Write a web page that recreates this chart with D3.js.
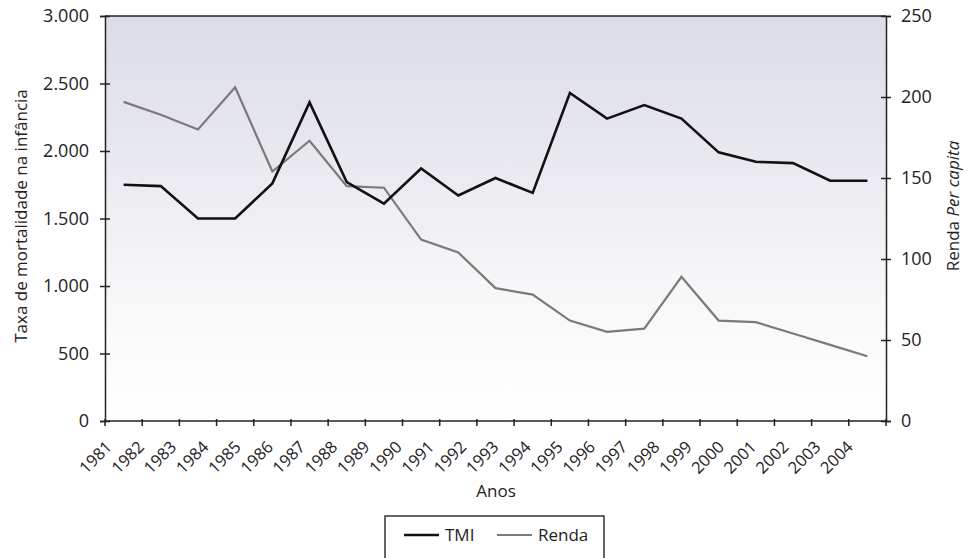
<!DOCTYPE html>
<html>
<head>
<meta charset="utf-8">
<script src="https://cdn.jsdelivr.net/npm/d3@7"></script>
<style>
  html, body { margin: 0; padding: 0; background: #ffffff; }
  svg { display: block; font-family: "Open Sans", "Noto Sans", sans-serif; }
</style>
</head>
<body>
<svg id="chart" width="971" height="558"></svg>
<script>
// Year labels printed along the horizontal axis
const yearLabels = ["1981","1982","1983","1984","1985","1986","1987","1988","1989","1990",
  "1991","1992","1993","1994","1995","1996","1997","1998","1999","2000","2001","2002","2003","2004"];

// Plotted observations (one value per category slot)
const tmi = [1750, 1740, 1500, 1500, 1760, 2360, 1770, 1610, 1870, 1670, 1800,
  1690, 2430, 2240, 2340, 2240, 1990, 1920, 1910, 1780, 1780];
const renda = [197, 189, 180, 206, 154, 173, 145, 144, 112, 104, 82,
  78, 62, 55, 57, 89, 62, 61, 54, 47, 40];

const leftTicks = [0, 500, 1000, 1500, 2000, 2500, 3000];
const rightTicks = [0, 50, 100, 150, 200, 250];

const svg = d3.select("#chart");
const plot = { left: 105, right: 886, top: 16, bottom: 421 };

const slots = d3.range(tmi.length);
const x = d3.scaleBand().domain(slots).range([plot.left, plot.right]);
const yL = d3.scaleLinear().domain([0, 3000]).range([plot.bottom, plot.top]);
const yR = d3.scaleLinear().domain([0, 250]).range([plot.bottom, plot.top]);
const xLabel = d3.scalePoint().domain(yearLabels).range([113, 854]);

const fmt = v => d3.format(",")(v).replace(/,/g, ".");

// Plot background: soft lavender fading to white
const defs = svg.append("defs");
const grad = defs.append("linearGradient").attr("id", "bg")
  .attr("x1", 0).attr("y1", 0).attr("x2", 0).attr("y2", 1);
grad.append("stop").attr("offset", "0%").attr("stop-color", "#dcdce8");
grad.append("stop").attr("offset", "35%").attr("stop-color", "#e8e8ef");
grad.append("stop").attr("offset", "65%").attr("stop-color", "#f6f6f8");
grad.append("stop").attr("offset", "100%").attr("stop-color", "#ffffff");

svg.append("rect")
  .attr("x", plot.left).attr("y", plot.top)
  .attr("width", plot.right - plot.left).attr("height", plot.bottom - plot.top)
  .attr("fill", "url(#bg)");

// Top frame line
svg.append("line")
  .attr("x1", plot.left).attr("x2", plot.right)
  .attr("y1", plot.top).attr("y2", plot.top)
  .attr("stroke", "#222").attr("stroke-width", 1.5);

// Left axis
const gL = svg.append("g").attr("transform", `translate(${plot.left},0)`)
  .call(d3.axisLeft(yL).tickValues(leftTicks).tickFormat(fmt).tickSize(5).tickPadding(11));
gL.selectAll(".tick line").attr("x2", -5).attr("x1", 5);

// Right axis
const gR = svg.append("g").attr("transform", `translate(${plot.right},0)`)
  .call(d3.axisRight(yR).tickValues(rightTicks).tickSize(5).tickPadding(10));
gR.selectAll(".tick line").attr("x1", -5).attr("x2", 5);

// Bottom axis: ticks at slot boundaries
const bounds = d3.range(tmi.length + 1).map(i => plot.left + i * x.step());
const gB = svg.append("g");
gB.append("line")
  .attr("x1", plot.left).attr("x2", plot.right)
  .attr("y1", plot.bottom).attr("y2", plot.bottom)
  .attr("stroke", "#222").attr("stroke-width", 1.5);
gB.selectAll("line.tk").data(bounds).join("line").attr("class", "tk")
  .attr("x1", d => d).attr("x2", d => d)
  .attr("y1", plot.bottom - 2).attr("y2", plot.bottom + 5)
  .attr("stroke", "#222").attr("stroke-width", 1.5);

[gL, gR].forEach(g => {
  g.select(".domain").attr("stroke", "#222").attr("stroke-width", 1.5);
  g.selectAll(".tick line").attr("stroke", "#222").attr("stroke-width", 1.5);
  g.selectAll(".tick text").attr("font-size", 18).attr("fill", "#222")
    .attr("font-family", "'Open Sans', sans-serif");
});

// Rotated year labels
svg.append("g").selectAll("text").data(yearLabels).join("text")
  .attr("transform", d => `translate(${xLabel(d)},448) rotate(-45)`)
  .attr("text-anchor", "end")
  .attr("font-size", 16.5)
  .attr("fill", "#222")
  .text(d => d);

// Axis titles
svg.append("text")
  .attr("transform", "translate(27,216) rotate(-90)")
  .attr("text-anchor", "middle")
  .attr("font-size", 17).attr("fill", "#222")
  .text("Taxa de mortalidade na infância");

const rt = svg.append("text")
  .attr("transform", "translate(959,206) rotate(-90)")
  .attr("text-anchor", "middle")
  .attr("font-size", 17).attr("fill", "#222");
rt.append("tspan").text("Renda ");
rt.append("tspan").attr("font-style", "italic").text("Per capita");

svg.append("text")
  .attr("x", 496).attr("y", 497)
  .attr("text-anchor", "middle")
  .attr("font-size", 17).attr("fill", "#222")
  .text("Anos");

// Series lines
const lineL = d3.line().x((d, i) => x(i) + x.bandwidth() / 2).y(d => yL(d));
const lineR = d3.line().x((d, i) => x(i) + x.bandwidth() / 2).y(d => yR(d));

svg.append("path").datum(renda)
  .attr("d", lineR).attr("fill", "none")
  .attr("stroke", "#7a7a7a").attr("stroke-width", 2.2).attr("stroke-linejoin", "miter");

svg.append("path").datum(tmi)
  .attr("d", lineL).attr("fill", "none")
  .attr("stroke", "#111").attr("stroke-width", 2.6).attr("stroke-linejoin", "miter");

// Legend
const lg = svg.append("g");
lg.append("rect")
  .attr("x", 385).attr("y", 516).attr("width", 219).attr("height", 50)
  .attr("fill", "#ffffff").attr("stroke", "#333").attr("stroke-width", 1.5);
const items = [
  { name: "TMI", color: "#111", w: 2.6, x0: 404 },
  { name: "Renda", color: "#7a7a7a", w: 2.2, x0: 497 }
];
items.forEach(it => {
  lg.append("line")
    .attr("x1", it.x0).attr("x2", it.x0 + 35)
    .attr("y1", 535).attr("y2", 535)
    .attr("stroke", it.color).attr("stroke-width", it.w);
  lg.append("text")
    .attr("x", it.x0 + 41).attr("y", 541)
    .attr("font-size", 17).attr("fill", "#222")
    .text(it.name);
});
</script>
</body>
</html>
